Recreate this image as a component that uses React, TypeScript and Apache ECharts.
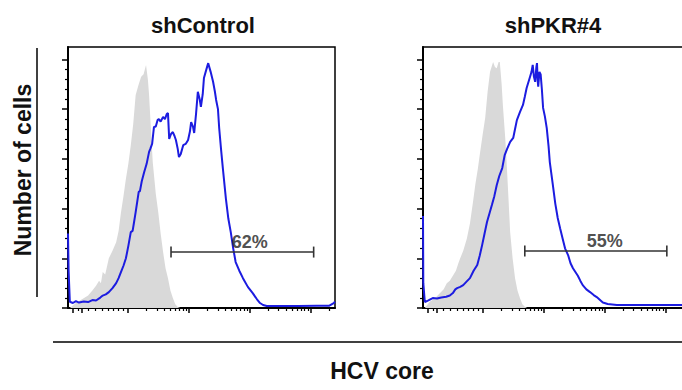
import React, { useEffect, useRef } from "react";
import * as echarts from "echarts";

// x values are in log10 (decade) display units of HCV core fluorescence; y is % of modal count
const panelTitles = ["shControl", "shPKR#4"];
const gatePercents = ["62%", "55%"];
const gateRanges: [number, number][] = [
  [2.71, 5.05],
  [2.69, 5.02],
];
const gateHeights = [22.5, 22.9];
const gateLabelX = [4.0, 4.0];

const shControlIsotype: [number, number][] = [
  [1.05, 0], [1.15, 2], [1.25, 3.5], [1.35, 5], [1.42, 7], [1.48, 9], [1.53, 11], [1.56, 10],
  [1.59, 14.5], [1.63, 13.5], [1.69, 20], [1.75, 23], [1.81, 26.5], [1.85, 31], [1.89, 38.6],
  [1.93, 45], [1.97, 52], [2.01, 58], [2.05, 65.5], [2.09, 74], [2.13, 85.7], [2.18, 90],
  [2.22, 93], [2.26, 94], [2.3, 97.8], [2.33, 92], [2.35, 85.7], [2.38, 72], [2.41, 58.7],
  [2.46, 46], [2.5, 38.6], [2.54, 30], [2.58, 22.5], [2.62, 16], [2.66, 12], [2.7, 7],
  [2.74, 4], [2.78, 1.5], [2.82, 0.4], [2.86, 0],
];

const shControlCore: [number, number][] = [
  [1.02, 30], [1.03, 15], [1.05, 2.5], [1.1, 2.0], [1.15, 2.8], [1.2, 2.2], [1.28, 2.6],
  [1.35, 2.4], [1.42, 3.2], [1.48, 3.0], [1.55, 4.2], [1.59, 5], [1.64, 5.5], [1.69, 6.4],
  [1.75, 8], [1.81, 10], [1.85, 12], [1.89, 14.5], [1.93, 17], [1.97, 20], [2.01, 25],
  [2.05, 30.5], [2.08, 31], [2.1, 34], [2.13, 38.6], [2.18, 46.7], [2.2, 47], [2.23, 51],
  [2.27, 54.7], [2.31, 58], [2.35, 62.8], [2.37, 64], [2.4, 66], [2.43, 72.8], [2.46, 73],
  [2.49, 75.6], [2.51, 76], [2.54, 75], [2.58, 76.9], [2.61, 76], [2.64, 78], [2.66, 78.4],
  [2.68, 68], [2.71, 70], [2.74, 70.8], [2.77, 69], [2.79, 67.6], [2.82, 64], [2.84, 60.7],
  [2.87, 62], [2.91, 65.5], [2.95, 66], [2.99, 67.6], [3.02, 71], [3.04, 74.8], [3.07, 73],
  [3.09, 70.4], [3.12, 78], [3.15, 87], [3.18, 84], [3.2, 80.9], [3.23, 86], [3.25, 92.5],
  [3.29, 96], [3.32, 98.5], [3.36, 95], [3.4, 91], [3.43, 87], [3.45, 83.7], [3.48, 80],
  [3.5, 72.4], [3.53, 64], [3.56, 56.3], [3.61, 44], [3.65, 36], [3.69, 30.5], [3.73, 24],
  [3.77, 18.5], [3.83, 15], [3.89, 12], [3.97, 8.5], [4.05, 6], [4.12, 3.5], [4.17, 2],
  [4.22, 1.2], [4.28, 0.8], [4.5, 0.8], [4.8, 0.8], [5.1, 0.9], [5.3, 0.9], [5.38, 2], [5.4, 2.5],
];

const shPKRIsotype: [number, number][] = [
  [1.05, 0], [1.13, 2.5], [1.22, 4], [1.3, 6], [1.36, 7.5], [1.41, 10], [1.46, 11], [1.51, 13],
  [1.56, 15], [1.6, 18], [1.63, 20], [1.68, 23], [1.74, 28], [1.79, 34], [1.84, 42.6], [1.88, 50],
  [1.92, 56], [1.95, 61.5], [2.0, 70], [2.04, 76.4], [2.08, 87], [2.12, 95], [2.17, 99],
  [2.2, 97], [2.23, 96.5], [2.26, 99], [2.28, 99], [2.31, 90], [2.33, 81.7], [2.37, 68],
  [2.4, 54.7], [2.45, 30.5], [2.49, 20], [2.53, 12], [2.57, 7], [2.61, 4], [2.65, 1.5],
  [2.69, 0.5], [2.73, 0],
];

const shPKRCore: [number, number][] = [
  [1.02, 37], [1.025, 10], [1.05, 2.4], [1.1, 3], [1.18, 4], [1.25, 3.8], [1.32, 4.2], [1.4, 4.5],
  [1.46, 5], [1.51, 6], [1.55, 7.5], [1.58, 8], [1.63, 8.5], [1.68, 9.2], [1.73, 10.5], [1.79, 12],
  [1.85, 15], [1.91, 17.3], [1.95, 21], [1.99, 25.3], [2.03, 30], [2.07, 34.6], [2.11, 38],
  [2.15, 41.4], [2.19, 45], [2.23, 49.5], [2.27, 53], [2.32, 56.3], [2.36, 61.5], [2.4, 64],
  [2.45, 66.8], [2.5, 68.4], [2.53, 72], [2.56, 75.6], [2.61, 78.8], [2.66, 81.7], [2.69, 85],
  [2.72, 88.5], [2.77, 92.5], [2.8, 95], [2.82, 97.8], [2.84, 93], [2.86, 91], [2.88, 97],
  [2.89, 98.5], [2.9, 92], [2.91, 89], [2.93, 95], [2.95, 94], [2.97, 88], [2.99, 80.5],
  [3.02, 77], [3.05, 72.4], [3.08, 65], [3.1, 58.7], [3.15, 49.5], [3.19, 42], [3.23, 36.2],
  [3.27, 32], [3.31, 28], [3.35, 24], [3.4, 21.3], [3.44, 18], [3.48, 16], [3.52, 14.5],
  [3.56, 13], [3.6, 11], [3.64, 9.2], [3.7, 7.5], [3.76, 6.4], [3.82, 5.2], [3.87, 4.4],
  [3.97, 2.2], [4.05, 1.6], [4.2, 1.2], [4.6, 1.2], [5.0, 1.2], [5.4, 1.2],
];

// axis ticks (biexponential display: linear region near zero, then decades 10^2..10^5)
const xMajorTicks = [1.1, 1.25, 2, 3, 4, 5];
const xLowMinorTicks = [1.18, 1.35, 1.46, 1.58, 1.68, 1.76, 1.84, 1.92];
const decadeStarts = [2, 3, 4];
const decadeMultipliers = [2, 3, 4, 5, 6, 7, 8, 9];
const xTopMinorTicks = [5.3];
const yMajorTicks = [0, 20, 40, 60, 80, 100];
const yMinorTicks = [4, 8, 12, 16, 24, 28, 32, 36, 44, 48, 52, 56, 64, 68, 72, 76, 84, 88, 92, 96];

const X_MIN = 1.02;
const X_MAX = 5.4;
const Y_MAX = 105;

export default function App() {
  const ref = useRef<HTMLDivElement>(null);
  useEffect(() => {
    if (!ref.current) return;
    const chart = echarts.init(ref.current, undefined, { renderer: "svg" });
    const xMinorTicks = [
      ...xLowMinorTicks,
      ...decadeStarts.flatMap((d) => decadeMultipliers.map((k) => d + Math.log10(k))),
      ...xTopMinorTicks,
    ];
    const gridLefts = [68, 423];
    const grids = gridLefts.map((left) => ({
      left,
      top: 47,
      width: 267,
      height: 261,
      show: true,
      borderColor: "#000",
      borderWidth: 1.5,
      backgroundColor: "transparent",
    }));
    const xAxes: any[] = [];
    const yAxes: any[] = [];
    gridLefts.forEach((_, gi) => {
      xAxes.push({
        type: "value", gridIndex: gi, min: X_MIN, max: X_MAX, position: "bottom",
        axisLine: { show: true, onZero: false, lineStyle: { color: "#000", width: 2 } },
        axisTick: { show: true, customValues: xMajorTicks, length: 5, lineStyle: { color: "#000", width: 1.5 } },
        axisLabel: { show: false }, splitLine: { show: false },
      });
      xAxes.push({
        type: "value", gridIndex: gi, min: X_MIN, max: X_MAX, position: "bottom",
        axisLine: { show: false },
        axisTick: { show: true, customValues: xMinorTicks, length: 3, lineStyle: { color: "#000", width: 1.2 } },
        axisLabel: { show: false }, splitLine: { show: false },
      });
      yAxes.push({
        type: "value", gridIndex: gi, min: 0, max: Y_MAX, position: "left",
        axisLine: { show: true, onZero: false, lineStyle: { color: "#000", width: 2 } },
        axisTick: { show: true, customValues: yMajorTicks, length: 6, lineStyle: { color: "#000", width: 1.5 } },
        axisLabel: { show: false }, splitLine: { show: false },
      });
      yAxes.push({
        type: "value", gridIndex: gi, min: 0, max: Y_MAX, position: "left",
        axisLine: { show: false },
        axisTick: { show: true, customValues: yMinorTicks, length: 3, lineStyle: { color: "#000", width: 1.2 } },
        axisLabel: { show: false }, splitLine: { show: false },
      });
    });

    const panels = [
      { iso: shControlIsotype, core: shControlCore },
      { iso: shPKRIsotype, core: shPKRCore },
    ];
    const series: any[] = [];
    panels.forEach((p, i) => {
      const xi = i * 2;
      const yi = i * 2;
      series.push({
        type: "line", xAxisIndex: xi, yAxisIndex: yi, data: p.iso, symbol: "none",
        lineStyle: { width: 0, color: "#d8d8d8" },
        areaStyle: { color: "#d9d9d9", opacity: 1, origin: "start" },
        z: 1,
      });
      series.push({
        type: "line", xAxisIndex: xi, yAxisIndex: yi, data: p.core, symbol: "none",
        lineStyle: { width: 2, color: "#1c1ce0" },
        z: 3,
      });
      series.push({
        type: "line", xAxisIndex: xi, yAxisIndex: yi,
        data: [[gateRanges[i][0], gateHeights[i]], [gateRanges[i][1], gateHeights[i]]],
        symbol: "rect", symbolSize: [1.6, 11],
        itemStyle: { color: "#333" },
        lineStyle: { width: 1.5, color: "#333" },
        z: 4,
      });
      series.push({
        type: "scatter", xAxisIndex: xi, yAxisIndex: yi,
        data: [[gateLabelX[i], gateHeights[i]]],
        symbolSize: 0,
        label: {
          show: true, position: "top", distance: 1, formatter: gatePercents[i],
          fontFamily: "Liberation Sans", fontWeight: "bold", fontSize: 18, color: "#222",
        },
        z: 5,
      });
    });

    const titleCenters = [203, 553];
    const bold = { fontFamily: "Liberation Sans", fontWeight: "bold", fill: "#111" };
    const graphic: any[] = [
      ...panelTitles.map((t, i) => ({
        type: "text", x: titleCenters[i], y: 25,
        style: { ...bold, text: t, fontSize: 22, textAlign: "center", textVerticalAlign: "middle" },
      })),
      {
        type: "text", x: 23, y: 170, rotation: Math.PI / 2,
        style: { ...bold, text: "Number of cells", fontSize: 23, textAlign: "center", textVerticalAlign: "middle" },
      },
      {
        type: "line", shape: { x1: 37, y1: 48, x2: 37, y2: 297 },
        style: { stroke: "#000", lineWidth: 1.5 },
      },
      {
        type: "line", shape: { x1: 53, y1: 342, x2: 700, y2: 342 },
        style: { stroke: "#000", lineWidth: 1.5 },
      },
      {
        type: "text", x: 382, y: 371,
        style: { ...bold, text: "HCV core", fontSize: 23, textAlign: "center", textVerticalAlign: "middle" },
      },
    ];

    chart.setOption({
      animation: false,
      backgroundColor: "#fff",
      grid: grids,
      xAxis: xAxes,
      yAxis: yAxes,
      series,
      graphic,
    });
    return () => chart.dispose();
  }, []);
  return (
    <div
      ref={ref}
      style={{ position: "fixed", left: 0, top: 0, width: 700, height: 390 }}
    />
  );
}
